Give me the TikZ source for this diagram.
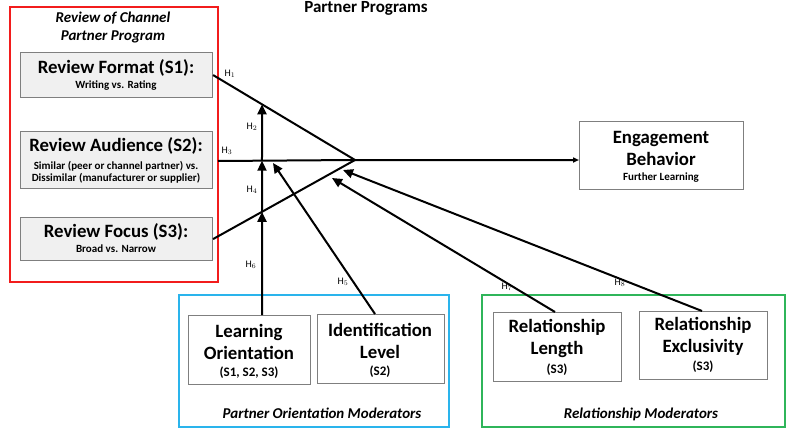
\documentclass[tikz,border=0pt]{standalone}
\usepackage{fontspec}
\setmainfont{Carlito}
\usetikzlibrary{arrows.meta}
\definecolor{frameRed}{HTML}{F21C1C}
\definecolor{frameCyan}{HTML}{2AB4EC}
\definecolor{frameGreen}{HTML}{2FB55A}
\definecolor{boxGray}{HTML}{F0F0F0}
\definecolor{edgeGray}{HTML}{7F7F7F}
\begin{document}
\begin{tikzpicture}[x=1pt,y=-1pt,
  frame/.style={draw, line width=2pt},
  scalebox/.style={draw=edgeGray, fill=boxGray, line width=1.1pt, anchor=north west, inner sep=0},
  modbox/.style={draw=edgeGray, fill=white, line width=1.1pt, anchor=north west, inner sep=0},
  title/.style={font=\fontsize{18.8}{20}\selectfont\bfseries, inner sep=0},
  sub/.style={font=\fontsize{11}{12}\selectfont\bfseries, inner sep=0, align=center},
  modsub/.style={font=\fontsize{13}{14}\selectfont\bfseries, inner sep=0, align=center},
  modtitle/.style={font=\fontsize{18.8}{22}\selectfont\bfseries, inner sep=0, align=center},
  grouptitle/.style={font=\fontsize{15}{18}\selectfont\bfseries\itshape, inner sep=0, align=center},
  hyp/.style={font=\fontsize{10}{11}\selectfont, inner sep=0},
  path/.style={line width=2pt},
  arr/.style={path, -{Triangle[length=10pt,width=9pt]}},
]
\useasboundingbox (0,0) rectangle (787,439);

% heading
\node[font=\fontsize{17}{19}\selectfont\bfseries, inner sep=0] (head) at (366,8) {Partner Programs};

% review group (left)
\draw[frame, frameRed] (10,7) rectangle (218,282);
\coordinate (redEdge) at (218,161);
\node[grouptitle] (revhead) at (113,28) {Review of Channel\\Partner Program};

\node[scalebox, minimum width=192pt, minimum height=45pt] (fmt) at (20,52) {};
\node[title] (fmtT) at (116,68) {Review Format (S1):};
\node[sub] (fmtS) at (116,86) {Writing vs. Rating};

\node[scalebox, minimum width=192pt, minimum height=57pt] (aud) at (20,131) {};
\node[title] (audT) at (116,146) {Review Audience (S2):};
\node[sub] (audS) at (116,172) {Similar (peer or channel partner) vs.\\Dissimilar (manufacturer or supplier)};

\node[scalebox, minimum width=192pt, minimum height=43pt] (foc) at (20,217) {};
\node[title] (focT) at (116,232) {Review Focus (S3):};
\node[sub] (focS) at (116,249) {Broad vs. Narrow};

% outcome
\node[modbox, minimum width=164pt, minimum height=68pt] (eng) at (579,121) {};
\node[modtitle] (engT) at (661,148) {Engagement\\Behavior};
\node[sub] (engS) at (661,178) {Further Learning};

% partner orientation moderators
\draw[frame, frameCyan] (179,295) rectangle (449,427);
\node[modbox, minimum width=122pt, minimum height=69pt] (lo) at (188,315) {};
\node[modtitle] (loT) at (249,342) {Learning\\Orientation};
\node[modsub] (loS) at (249,373) {(S1, S2, S3)};
\node[modbox, minimum width=127pt, minimum height=69pt] (idl) at (317,314) {};
\node[modtitle] (idlT) at (380,341) {Identification\\Level};
\node[modsub] (idlS) at (380,372) {(S2)};
\node[grouptitle] (pom) at (322,413) {Partner Orientation Moderators};

% relationship moderators
\draw[frame, frameGreen] (482,295) rectangle (785,427);
\node[modbox, minimum width=128pt, minimum height=69pt] (rl) at (493,312) {};
\node[modtitle] (rlT) at (557,338) {Relationship\\Length};
\node[modsub] (rlS) at (557,370) {(S3)};
\node[modbox, minimum width=128pt, minimum height=68pt] (rx) at (639,311) {};
\node[modtitle] (rxT) at (703,336) {Relationship\\Exclusivity};
\node[modsub] (rxS) at (703,367) {(S3)};
\node[grouptitle] (rm) at (641,414) {Relationship Moderators};

% main effects converging on the apex
\coordinate (apex) at (355,160);
\draw[path] (fmt.east) -- (apex);
\draw[path] (foc.east) -- (apex);
\draw[path, -{Triangle[length=6pt,width=5pt]}] (redEdge) -- (apex) -- (apex -| eng.west);

% learning orientation moderates all three paths
\coordinate (loTop) at (262,315);
\coordinate (loUp) at (262,0);
\coordinate (c1) at (intersection of fmt.east--apex and loTop--loUp);
\coordinate (c3) at (intersection of redEdge--apex and loTop--loUp);
\coordinate (c6) at (intersection of foc.east--apex and loTop--loUp);
\draw[arr] (loTop) -- (c6);
\draw[arr] (c6) -- (c3);
\draw[arr] (c3) -- (c1);

% other moderators
\coordinate (idlTop) at (375,314);
\coordinate (t5) at (273,163);
\draw[arr] (idlTop) -- (t5);
\coordinate (rlTop) at (555,312);
\coordinate (t7) at (332,178);
\draw[arr] (rlTop) -- (t7);
\coordinate (rxTop) at (702,311);
\coordinate (t8) at (343,170);
\draw[arr] (rxTop) -- (t8);

% hypothesis labels
\node[hyp] (h1) at (230,74) {H$_1$};
\node[hyp] (h2) at (252,127) {H$_2$};
\node[hyp] (h3) at (227,151) {H$_3$};
\node[hyp] (h4) at (252,190) {H$_4$};
\node[hyp] (h5) at (343,282) {H$_5$};
\node[hyp] (h6) at (251,265) {H$_6$};
\node[hyp] (h7) at (507,287) {H$_7$};
\node[hyp] (h8) at (620,283) {H$_8$};
\end{tikzpicture}
\end{document}
